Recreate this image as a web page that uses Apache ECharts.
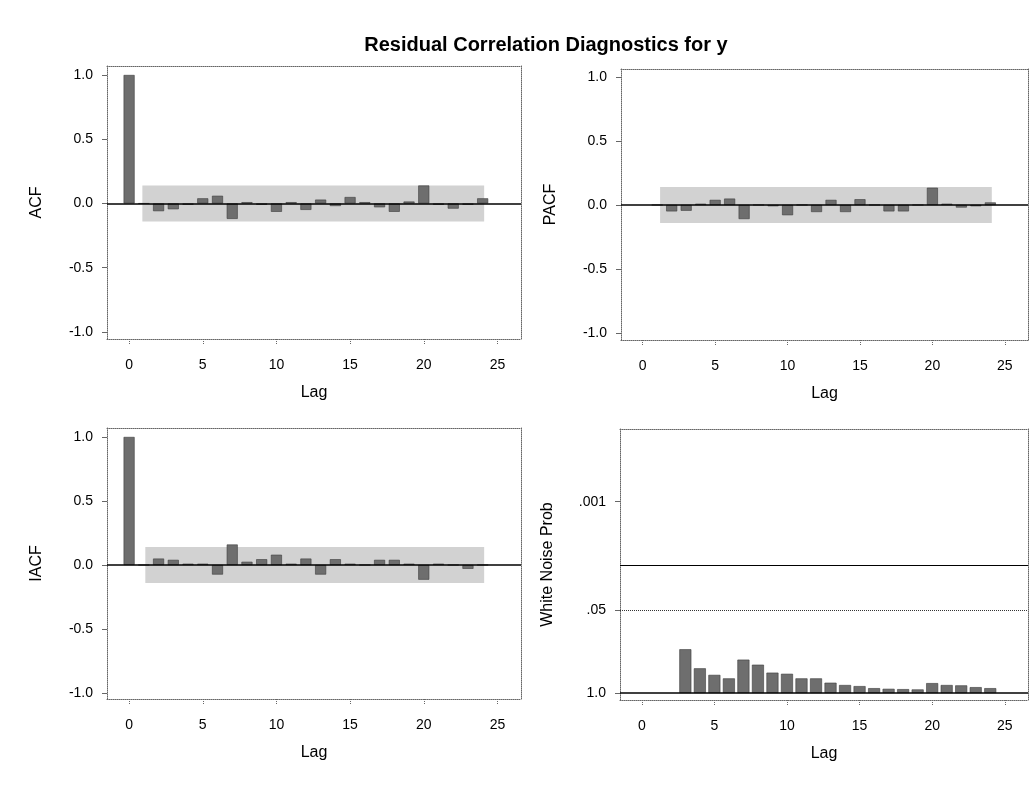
<!DOCTYPE html>
<html><head><meta charset="utf-8">
<script src="https://cdn.jsdelivr.net/npm/echarts@6/dist/echarts.min.js"></script>
<style>html,body{margin:0;padding:0;background:#fff}#c{width:1035px;height:787px}</style>
</head><body><div id="c"></div>
<script>
const titleText = 'Residual Correlation Diagnostics for y';
const lags = [0,1,2,3,4,5,6,7,8,9,10,11,12,13,14,15,16,17,18,19,20,21,22,23,24];
const acf  = [1.0,0.0,-0.06,-0.045,-0.01,0.04,0.06,-0.12,0.01,-0.01,-0.065,0.01,-0.05,0.03,-0.02,0.05,0.01,-0.03,-0.065,0.015,0.14,-0.01,-0.04,-0.01,0.04];
const pacfLags = [1,2,3,4,5,6,7,8,9,10,11,12,13,14,15,16,17,18,19,20,21,22,23,24];
const pacf = [0.0,-0.05,-0.045,0.01,0.04,0.05,-0.11,0.0,-0.01,-0.08,0.0,-0.055,0.04,-0.055,0.045,0.0,-0.05,-0.05,0.0,0.135,0.01,-0.02,-0.01,0.02];
const iacf = [1.0,0.0,0.05,0.04,0.01,0.01,-0.075,0.16,0.025,0.045,0.08,0.01,0.05,-0.075,0.045,0.01,0.0,0.04,0.04,0.01,-0.115,0.01,0.0,-0.03,0.0];
const wnLags = [3,4,5,6,7,8,9,10,11,12,13,14,15,16,17,18,19,20,21,22,23,24];
const wnProb = [0.206,0.41,0.52,0.59,0.30,0.36,0.48,0.50,0.59,0.59,0.69,0.75,0.78,0.84,0.86,0.87,0.88,0.70,0.75,0.76,0.81,0.84];
const lagTicks = [0,5,10,15,20,25];
const corrTicks = [-1,-0.5,0,0.5,1];
const probTicks = [1.0,0.05,0.001];
const probTickLabels = ['1.0','.05','.001'];
const probSolidRef = 0.01;
const probDashRef = 0.05;
const band = 0.14;
const bandStart = [0.9, 1.2, 1.1];
const bandEnd = 24.1;
const panelNames = ['ACF','PACF','IACF','White Noise Prob'];

const FONT = "'Liberation Sans', Arial, sans-serif";
const nlp = p => -Math.log10(p);

const grids = [
  {left:107, top:66, width:414, height:273},
  {left:621, top:69, width:407, height:271},
  {left:107, top:428, width:414, height:271},
  {left:620, top:429, width:408, height:271}
];
const yr = [
  [-1.055, 1.07], [-1.055, 1.0625], [-1.047, 1.07], [-0.11, 4.14]
];
const frameLine = {color:'#666', type:'dotted', width:1};
const xAxes = [], yAxes = [], series = [];
grids.forEach((g, i) => {
  xAxes.push({
    gridIndex:i, type:'value', min:-1.5, max:26.6, position:'bottom',
    axisLine:{show:true, onZero:false, lineStyle:frameLine},
    axisTick:{show:true, customValues:lagTicks, length:6, lineStyle:{color:'#666', type:'dotted'}},
    axisLabel:{customValues:lagTicks, margin:19, fontSize:14, color:'#000', fontFamily:FONT},
    splitLine:{show:false},
    name:'Lag', nameLocation:'middle', nameGap:46,
    nameTextStyle:{fontSize:16, color:'#000', fontFamily:FONT}
  });
  xAxes.push({
    gridIndex:i, type:'value', min:-1.5, max:26.6, position:'top',
    axisLine:{show:true, onZero:false, lineStyle:frameLine},
    axisTick:{show:false}, axisLabel:{show:false}, splitLine:{show:false}
  });
  const isProb = i === 3;
  const tv = isProb ? probTicks.map(nlp) : corrTicks;
  yAxes.push({
    gridIndex:i, type:'value', min:yr[i][0], max:yr[i][1], position:'left',
    axisLine:{show:true, onZero:false, lineStyle:frameLine},
    axisTick:{show:true, customValues:tv, length:5, lineStyle:{color:'#666'}},
    axisLabel:{customValues:tv, margin:14, fontSize:14, color:'#000', fontFamily:FONT,
      formatter: v => {
        if (isProb) {
          let best = 0, bd = 1e9;
          probTicks.forEach((p, k) => { const d = Math.abs(nlp(p) - v); if (d < bd) { bd = d; best = k; } });
          return probTickLabels[best];
        }
        return (Math.abs(v) < 1e-9 ? 0 : v).toFixed(1);
      }},
    splitLine:{show:false},
    name:panelNames[i], nameLocation:'middle', nameGap: isProb ? 64 : 62, nameRotate:90,
    nameTextStyle:{fontSize:16, color:'#000', fontFamily:FONT}
  });
  yAxes.push({
    gridIndex:i, type:'value', min:yr[i][0], max:yr[i][1], position:'right',
    axisLine:{show:true, onZero:false, lineStyle:frameLine},
    axisTick:{show:false}, axisLabel:{show:false}, splitLine:{show:false}
  });
});

const barStyle = {color:'#6e6e6e', borderColor:'#3c3c3c', borderWidth:0.6};
const bandStyle = {color:'#d2d2d2', opacity:1};
function corrSeries(i, xs, ys, bs) {
  return {
    type:'bar', xAxisIndex:2*i, yAxisIndex:2*i, barWidth:11,
    data: xs.map((x, k) => [x, ys[k]]), itemStyle:barStyle, silent:true,
    markArea:{silent:true, itemStyle:bandStyle, data:[[{xAxis:bs, yAxis:-band},{xAxis:bandEnd, yAxis:band}]]},
    markLine:{silent:true, symbol:'none', label:{show:false}, lineStyle:{color:'#000', type:'solid', width:1.5}, data:[{yAxis:0}]},
    animation:false
  };
}
series.push(corrSeries(0, lags, acf, bandStart[0]));
series.push(corrSeries(1, pacfLags, pacf, bandStart[1]));
series.push(corrSeries(2, lags, iacf, bandStart[2]));
series.push({
  type:'bar', xAxisIndex:6, yAxisIndex:6, barWidth:12, silent:true,
  data: wnLags.map((x, k) => [x, nlp(wnProb[k])]), itemStyle:barStyle,
  markLine:{silent:true, symbol:'none', label:{show:false},
    data:[
      {yAxis:0, lineStyle:{color:'#000', type:'solid', width:1.5}},
      {yAxis:nlp(probSolidRef), lineStyle:{color:'#000', type:'solid', width:1}},
      {yAxis:nlp(probDashRef), lineStyle:{color:'#333', type:'dotted', width:1}}
    ]},
  animation:false
});

const chart = echarts.init(document.getElementById('c'), null, {renderer:'canvas'});
chart.setOption({
  animation:false,
  backgroundColor:'#fff',
  title:{text:titleText, left:541, textAlign:'center', top:30,
    textStyle:{fontSize:20, fontWeight:'bold', color:'#000', fontFamily:FONT}},
  grid:grids,
  xAxis:xAxes, yAxis:yAxes, series:series
});
</script></body></html>
